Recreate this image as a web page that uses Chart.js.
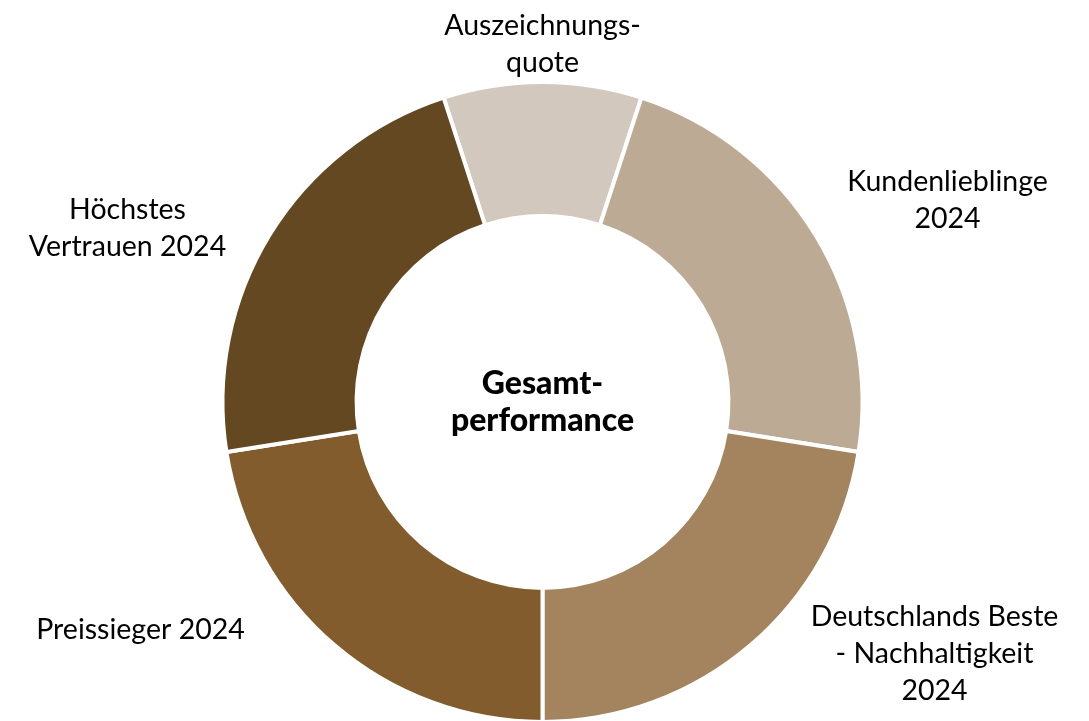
<!DOCTYPE html>
<html>
<head>
<meta charset="utf-8">
<script src="https://cdn.jsdelivr.net/npm/chart.js"></script>
<style>
  html, body { margin: 0; padding: 0; background: #fff; }
  #wrap { width: 1089px; height: 721px; }
</style>
</head>
<body>
<div id="wrap"><canvas id="donut" width="1089" height="721"></canvas></div>
<script>
// Data (share of the full circle, in percent)
const categories = [
    ['Auszeichnungs-', 'quote'],
    ['Kundenlieblinge', '2024'],
    ['Deutschlands Beste', '- Nachhaltigkeit', '2024'],
    ['Preissieger 2024'],
    ['Höchstes', 'Vertrauen 2024']
];
const shares = [10, 22.5, 22.5, 22.5, 22.5];
const centerLines = ['Gesamt-', 'performance'];

const sliceColors = ['#D3C8BD', '#BDAA95', '#A3845F', '#825C2C', '#634821'];

// label anchors, relative to the doughnut centre
const labelOffsets = [
    [0, -358],
    [405, -202],
    [392, 252],
    [-402, 228],
    [-415, -174]
];

const FONT = 'Lato, "Open Sans", sans-serif';

const labelPlugin = {
    id: 'outerLabels',
    afterDraw(chart) {
        const ctx = chart.ctx;
        const arc = chart.getDatasetMeta(0).data[0];
        const cx = arc.x, cy = arc.y;
        ctx.save();
        ctx.fillStyle = '#000';
        ctx.textAlign = 'center';
        ctx.textBaseline = 'middle';
        ctx.font = '28.5px ' + FONT;
        const lh = 37;
        categories.forEach((lines, i) => {
            const x = cx + labelOffsets[i][0];
            const y = cy + labelOffsets[i][1];
            const top = y - (lines.length - 1) * lh / 2;
            lines.forEach((t, j) => ctx.fillText(t, x, top + j * lh));
        });
        ctx.font = '900 32px ' + FONT;
        const top = cy - (centerLines.length - 1) * 37 / 2;
        centerLines.forEach((t, j) => ctx.fillText(t, cx, top + j * 37));
        ctx.restore();
    }
};

new Chart(document.getElementById('donut').getContext('2d'), {
    type: 'doughnut',
    data: {
        labels: categories.map(l => l.join(' ')),
        datasets: [{
            data: shares,
            backgroundColor: sliceColors,
            borderColor: '#fff',
            borderWidth: 4
        }]
    },
    options: {
        responsive: false,
        animation: false,
        rotation: -18,
        radius: 320,
        cutout: '58.1%',
        layout: { padding: { top: 83, bottom: 0, left: 0, right: 4 } },
        plugins: {
            legend: { display: false },
            tooltip: { enabled: false }
        }
    },
    plugins: [labelPlugin]
});
</script>
</body>
</html>
